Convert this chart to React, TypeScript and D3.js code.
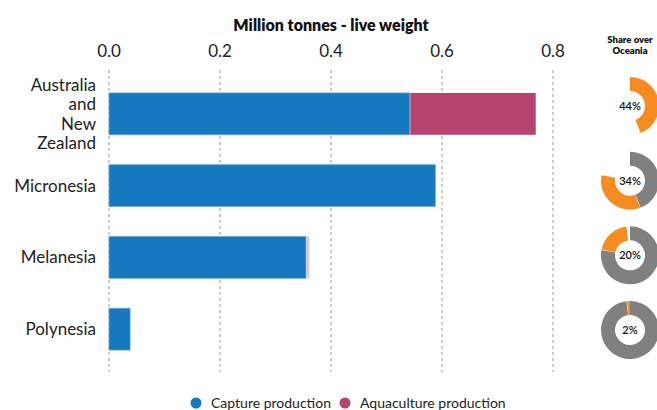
import React, { useEffect, useRef } from 'react';
import * as d3 from 'd3';

const regions = ['Australia and New Zealand', 'Micronesia', 'Melanesia', 'Polynesia'];
const regionLines = [['Australia', 'and', 'New', 'Zealand'], ['Micronesia'], ['Melanesia'], ['Polynesia']];
const capture = [0.542, 0.588, 0.355, 0.038];
const aquaculture = [0.226, 0, 0.005, 0];
const shareOceania = [44, 34, 20, 2];
const xTicks = [0, 0.2, 0.4, 0.6, 0.8];
const seriesNames = ['Capture production', 'Aquaculture production'];

const W = 657;
const H = 410;
const BLUE = '#1479be';
const MAGENTA = '#b5446e';
const ORANGE = '#f68b1f';
const GREY = '#808080';
const FONT = 'Lato, "Open Sans", sans-serif';

const App: React.FC = () => {
  const svgRef = useRef<SVGSVGElement>(null);

  useEffect(() => {
    if (!svgRef.current) return;
    const svg = d3.select(svgRef.current);
    svg.selectAll('*').remove();

    const x = d3.scaleLinear().domain([0, 0.8]).range([109, 553]);
    const y = d3.scaleBand<string>()
      .domain(regions)
      .range([78, 365])
      .paddingInner(0.417)
      .paddingOuter(0.208);

    // title
    svg.append('text')
      .attr('x', 331)
      .attr('y', 31)
      .attr('text-anchor', 'middle')
      .style('font-family', FONT)
      .style('font-weight', 800)
      .style('font-size', '16px')
      .style('fill', '#111')
      .text('Million tonnes - live weight');

    // grid + tick labels
    const g = svg.append('g');
    g.selectAll('line.grid')
      .data(xTicks)
      .enter()
      .append('line')
      .attr('class', 'grid')
      .attr('x1', d => x(d))
      .attr('x2', d => x(d))
      .attr('y1', 70)
      .attr('y2', 372)
      .style('stroke', '#999')
      .style('stroke-width', 1)
      .style('stroke-dasharray', '3,3');

    g.selectAll('text.tick')
      .data(xTicks)
      .enter()
      .append('text')
      .attr('class', 'tick')
      .attr('x', d => x(d))
      .attr('y', 57)
      .attr('text-anchor', 'middle')
      .style('font-family', FONT)
      .style('font-size', '17px')
      .style('fill', '#222')
      .text(d => d3.format('.1f')(d));

    // bars
    const rows = regions.map((r, i) => ({ region: r, capture: capture[i], aqua: aquaculture[i] }));
    g.selectAll('rect.capture')
      .data(rows)
      .enter()
      .append('rect')
      .attr('class', 'capture')
      .attr('x', x(0))
      .attr('y', d => y(d.region)!)
      .attr('width', d => x(d.capture) - x(0))
      .attr('height', y.bandwidth())
      .style('fill', BLUE)
      .style('stroke', '#6ea9d8')
      .style('stroke-width', 0.8);

    g.selectAll('rect.aqua')
      .data(rows.filter(d => d.aqua > 0))
      .enter()
      .append('rect')
      .attr('class', 'aqua')
      .attr('x', d => x(d.capture) + 0.5)
      .attr('y', d => y(d.region)!)
      .attr('width', d => x(d.capture + d.aqua) - x(d.capture))
      .attr('height', y.bandwidth())
      .style('fill', d => (d.aqua < 0.02 ? '#e2c3d0' : MAGENTA));

    // category labels
    regions.forEach((r, i) => {
      const lines = regionLines[i];
      const lh = 19.5;
      const cy = y(r)! + y.bandwidth() / 2;
      const t = svg.append('text')
        .attr('text-anchor', 'end')
        .style('font-family', FONT)
        .style('font-size', '17px')
        .style('fill', '#222');
      lines.forEach((ln, j) => {
        t.append('tspan')
          .attr('x', 96)
          .attr('y', cy + 6 + (j - (lines.length - 1) / 2) * lh)
          .text(ln);
      });
    });

    // share donuts
    const dy = d3.scalePoint<string>().domain(regions).range([106, 330]);
    const cx = 630;
    const arc = d3.arc<{ a0: number; a1: number }>()
      .innerRadius(15)
      .outerRadius(29)
      .startAngle(d => d.a0)
      .endAngle(d => d.a1);
    const ang = d3.scaleLinear().domain([0, 100]).range([0, 2 * Math.PI]);

    svg.append('text')
      .attr('x', cx)
      .attr('text-anchor', 'middle')
      .style('font-family', FONT)
      .style('font-weight', 800)
      .style('font-size', '9.5px')
      .style('fill', '#111')
      .selectAll('tspan')
      .data(['Share over', 'Oceania'])
      .enter()
      .append('tspan')
      .attr('x', cx)
      .attr('y', (d, i) => 43 + i * 11)
      .text(d => d);

    let cum = 0;
    regions.forEach((r, i) => {
      const cy = dy(r)!;
      const dg = svg.append('g').attr('transform', `translate(${cx},${cy})`);
      if (cum > 0) {
        dg.append('path').attr('d', arc({ a0: 0, a1: ang(cum) })!).style('fill', GREY);
      }
      dg.append('path')
        .attr('d', arc({ a0: ang(cum) + (cum > 0 ? 0.02 : 0), a1: ang(cum + shareOceania[i]) })!)
        .style('fill', ORANGE);
      dg.append('text')
        .attr('y', 4)
        .attr('text-anchor', 'middle')
        .style('font-family', FONT)
        .style('font-size', '11px')
        .style('font-weight', 600)
        .style('fill', '#111')
        .text(`${shareOceania[i]}%`);
      cum += shareOceania[i];
    });

    // legend
    const legend = svg.append('g').attr('transform', 'translate(196,403)');
    const legendX = [0, 149];
    const legendColors = [BLUE, MAGENTA];
    seriesNames.forEach((name, i) => {
      legend.append('circle')
        .attr('cx', legendX[i])
        .attr('cy', 0)
        .attr('r', 5.5)
        .style('fill', legendColors[i]);
      legend.append('text')
        .attr('x', legendX[i] + 15)
        .attr('y', 5)
        .style('font-family', FONT)
        .style('font-size', '14px')
        .style('fill', '#222')
        .text(name);
    });
  }, []);

  return (
    <svg
      ref={svgRef}
      width={W}
      height={H}
      style={{ position: 'absolute', left: 0, top: 0, background: '#fff' }}
    />
  );
};

export default App;
